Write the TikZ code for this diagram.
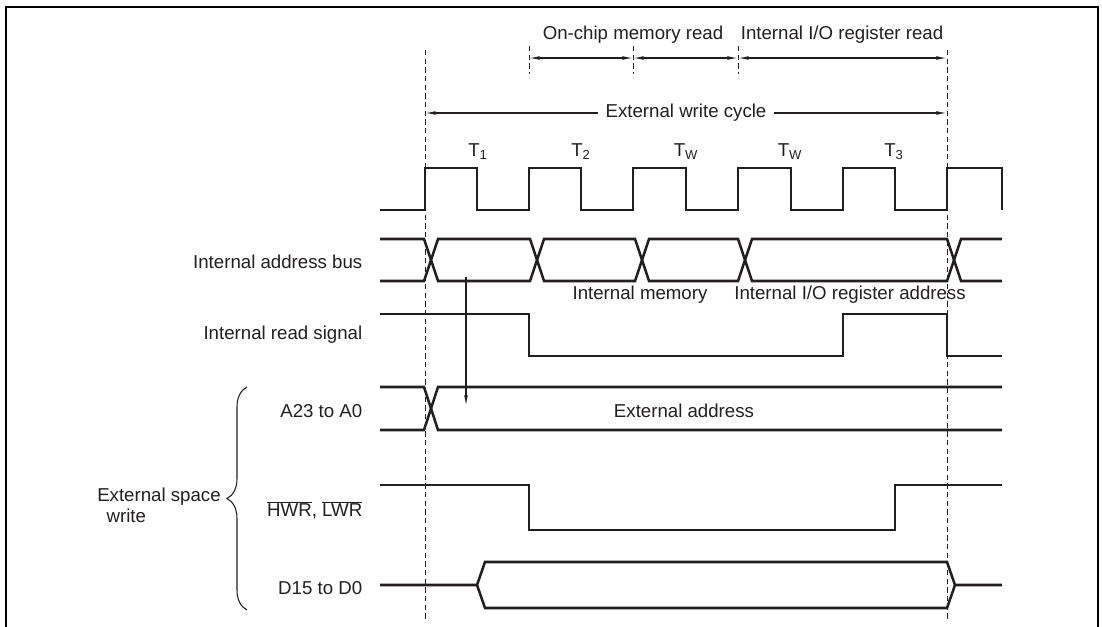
\documentclass[tikz,border=0pt]{standalone}
\usepackage{fontspec}
\setmainfont{Liberation Sans}
\usepackage{tikz}
\usetikzlibrary{arrows.meta, decorations.pathreplacing}
\definecolor{inkgray}{HTML}{231F20}
\newcommand{\barsig}[1]{$\overline{\mbox{#1}}$}

\begin{document}
\begin{tikzpicture}[
    x=0.75pt, y=-0.75pt,
    font=\fontsize{14}{16}\selectfont,
    every node/.style={text=inkgray},
    frame/.style={draw=black, line width=1.8pt},
    signal/.style={draw=inkgray, line width=1.9pt, line join=miter},
    guide/.style={draw=inkgray, line width=0.7pt, dash pattern=on 4pt off 2.5pt},
    dimarrow/.style={draw=inkgray, line width=0.8pt, {Latex[length=8pt,width=2.8pt]}-{Latex[length=8pt,width=2.8pt]}},
    downarrow/.style={draw=inkgray, line width=0.8pt, -{Latex[length=8pt,width=2.8pt]}},
    bracket/.style={draw=inkgray, line width=0.8pt, decorate, decoration={brace, amplitude=15pt}},
    siglabel/.style={anchor=east},
    tlabel/.style={inner sep=1pt}
]
\useasboundingbox (0,0) rectangle (1102,627);
\draw[frame] (6,630) -- (6,7) -- (1098,7) -- (1098,630);

% Hilfslinien
\coordinate (g0top) at (425,50);
\coordinate (g0bot) at (425,620);
\coordinate (g1top) at (947,50);
\coordinate (g1bot) at (947,620);
\draw[guide] (g0top) -- (g0bot);
\draw[guide] (g1top) -- (g1bot);
\draw[guide] (529,46) -- (529,74);
\draw[guide] (633,46) -- (633,74);
\draw[guide] (738,46) -- (738,74);

% Bemassung oben
\coordinate (m0) at (529,58);
\coordinate (m1) at (633,58);
\coordinate (m2) at (738,58);
\coordinate (m3) at (947,58);
\draw[dimarrow] (m0) -- (m1);
\draw[dimarrow] (m1) -- (m2);
\draw[dimarrow] (m2) -- (m3);
\node (onchip) at (633,35) {On-chip memory read};
\node (ioread) at (842,35) {Internal I/O register read};

\coordinate (w0) at (425,113);
\coordinate (w1) at (947,113);
\draw[dimarrow] (w0) -- (w1) node[midway, fill=white, inner sep=6pt] (cycle) {External write cycle};

% Takt
\node[tlabel] (T1) at (478,152) {T\textsubscript{1}};
\node[tlabel] (T2) at (581,152) {T\textsubscript{2}};
\node[tlabel] (Tw1) at (686,152) {T\textsubscript{W}};
\node[tlabel] (Tw2) at (790,152) {T\textsubscript{W}};
\node[tlabel] (T3) at (894,152) {T\textsubscript{3}};
\draw[signal] (380,210) -- (425,210) -- (425,168) -- (477,168) -- (477,210) -- (529,210) -- (529,168) -- (581,168) -- (581,210) -- (633,210) -- (633,168) -- (686,168) -- (686,210) -- (738,210) -- (738,168) -- (791,168) -- (791,210) -- (843,210) -- (843,168) -- (895,168) -- (895,210) -- (947,210) -- (947,168) -- (1002,168) -- (1002,210);

% Interner Adressbus
\node[siglabel] (iab) at (367,262) {Internal address bus};
\draw[signal] (380,239) -- (424,239) -- (438,281) -- (530,281) -- (544,239) -- (635,239) -- (649,281) -- (738,281) -- (752,239) -- (947,239) -- (961,281) -- (1002,281);
\draw[signal] (380,281) -- (424,281) -- (438,239) -- (530,239) -- (544,281) -- (635,281) -- (649,239) -- (738,239) -- (752,281) -- (947,281) -- (961,239) -- (1002,239);
\node (imem) at (640,295) {Internal memory};
\node (ioaddr) at (850,295) {Internal I/O register address};

% Internes Lesesignal
\node[siglabel] (ird) at (367,335) {Internal read signal};
\draw[signal] (380,314) -- (529,314) -- (529,356) -- (843,356) -- (843,314) -- (947,314) -- (947,356) -- (1002,356);

% Externer Adressbus
\node[siglabel] (abus) at (367,411) {A23 to A0};
\draw[signal] (380,387) -- (424,387) -- (438,430) -- (1002,430);
\draw[signal] (380,430) -- (424,430) -- (438,387) -- (1002,387);
\node (extaddr) at (684,411) {External address};
\coordinate (a0) at (466,277);
\coordinate (a1) at (466,406);
\draw[downarrow] (a0) -- (a1);

% HWR, LWR
\node[siglabel] (wr) at (367,510) {\barsig{HWR}, \barsig{LWR}};
\draw[signal] (380,485) -- (529,485) -- (529,530) -- (895,530) -- (895,485) -- (1002,485);

% Datenbus
\node[siglabel] (dbus) at (367,588) {D15 to D0};
\draw[signal] (380,585) -- (477,585) -- (485,562) -- (947,562) -- (955,585) -- (1002,585);
\draw[signal] (477,585) -- (485,608) -- (947,608) -- (955,585);

% Klammer
\coordinate (b0) at (247,610);
\coordinate (b1) at (247,387);
\draw[bracket] (b0) -- (b1);
\node[anchor=west, align=left, inner sep=0pt] (ext) at (97,505) {External space\\\hspace{0.5em}write};

\end{tikzpicture}
\end{document}
